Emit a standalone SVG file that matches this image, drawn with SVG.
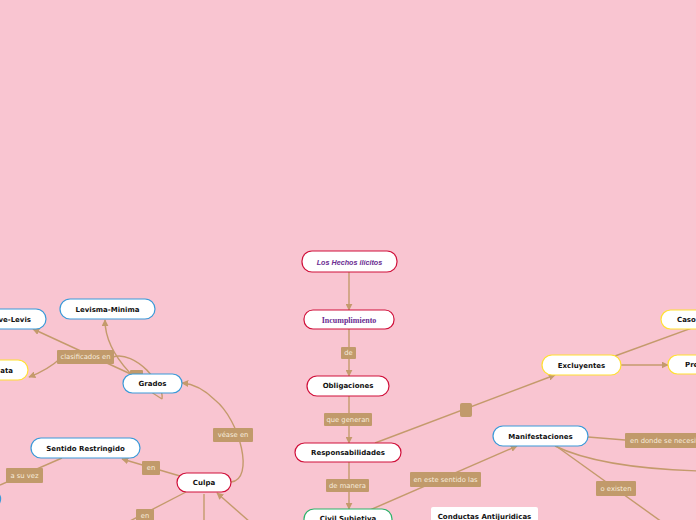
<svg xmlns="http://www.w3.org/2000/svg" width="696" height="520" viewBox="0 0 696 520">
<defs>
<marker id="ar" viewBox="0 0 10 10" refX="9" refY="5" markerWidth="7" markerHeight="7" markerUnits="userSpaceOnUse" orient="auto">
<path d="M0,0 L10,5 L0,10 z" fill="#C49A6C"/>
</marker>
<style>
.c{fill:none;stroke:#C49A6C;stroke-width:1.4}
.n{fill:#fff;stroke-width:1.2}
.red{stroke:#D0103A}
.blue{stroke:#3A9AD9}
.yel{stroke:#FFE033}
.grn{stroke:#2DB36B}
.t{font-family:"DejaVu Sans",sans-serif;font-weight:bold;font-size:7px;fill:#111;text-anchor:middle;dominant-baseline:central}
.lb{fill:#C19A6B}
.lt{font-family:"DejaVu Sans",sans-serif;font-size:6.8px;fill:#F7ECDD;text-anchor:middle;dominant-baseline:central}
</style>
</defs>
<rect width="696" height="520" fill="#F9C5D1"/>
<g id="connectors">
<line class="c" x1="349" y1="272" x2="349" y2="310" marker-end="url(#ar)"/>
<line class="c" x1="349" y1="329" x2="349" y2="376" marker-end="url(#ar)"/>
<line class="c" x1="349" y1="396" x2="349" y2="443" marker-end="url(#ar)"/>
<line class="c" x1="349" y1="462" x2="349" y2="509" marker-end="url(#ar)"/>
<line class="c" x1="375" y1="443" x2="555" y2="375" marker-end="url(#ar)"/>
<line class="c" x1="615" y1="356" x2="700" y2="325"/>
<line class="c" x1="621" y1="365" x2="668" y2="365" marker-end="url(#ar)"/>
<line class="c" x1="370" y1="510" x2="517" y2="446" marker-end="url(#ar)"/>
<line class="c" x1="588" y1="437" x2="625" y2="440"/>
<path class="c" d="M555,446 Q600,468 700,471"/>
<line class="c" x1="556" y1="446" x2="662" y2="522"/>
<path class="c" d="M231,482 C255,480 240,420 215,400 C205,390 195,384 182,383" marker-end="url(#ar)"/>
<line class="c" x1="180" y1="476" x2="122" y2="459" marker-end="url(#ar)"/>
<line class="c" x1="62" y1="458" x2="0" y2="485"/>
<line class="c" x1="186" y1="492" x2="128" y2="522"/>
<line class="c" x1="204" y1="494" x2="204" y2="522"/>
<line class="c" x1="250" y1="522" x2="217" y2="493" marker-end="url(#ar)"/>
<line class="c" x1="135" y1="376" x2="33" y2="329" marker-end="url(#ar)"/>
<path class="c" d="M62,357 Q48,370 29,377" marker-end="url(#ar)"/>
<path class="c" d="M162,399 C150,392 105,360 105,320" marker-end="url(#ar)"/>
<path class="c" d="M113,357 C135,350 165,385 162,399"/>
</g>
<g id="n-hechos"><rect class="n red" x="302" y="251" width="95" height="21" rx="10" stroke-width="2"/><text x="349.5" y="262" class="t" style="font-family:'Liberation Sans',sans-serif;font-style:italic;fill:#6B2C91;font-size:7.2px">Los Hechos ilícitos</text></g>
<g id="n-incumplimiento"><rect class="n red" x="304" y="310" width="90" height="19" rx="9"/><text x="349" y="320" class="t" style="font-family:'Liberation Serif',serif;fill:#6B2C91;font-size:8px">Incumplimiento</text></g>
<g id="l-de"><rect class="lb" x="341" y="347" width="15" height="12" rx="1"/><text class="lt" x="348.5" y="353">de</text></g>
<g id="n-obligaciones"><rect class="n red" x="307" y="376" width="82" height="20" rx="10"/><text x="348" y="386" class="t">Obligaciones</text></g>
<g id="l-quegeneran"><rect class="lb" x="324" y="413" width="48" height="13" rx="1"/><text class="lt" x="348" y="419.5">que generan</text></g>
<g id="n-responsabilidades"><rect class="n red" x="295" y="443" width="106" height="19" rx="9.5"/><text x="348" y="453" class="t">Responsabilidades</text></g>
<g id="l-demanera"><rect class="lb" x="326" y="479" width="43" height="13" rx="1"/><text class="lt" x="347.5" y="485.5">de manera</text></g>
<g id="n-civil"><rect class="n grn" x="304" y="509" width="88" height="20" rx="10"/><text x="348" y="519" class="t">Civil Subjetiva</text></g>
<g id="n-conductas"><rect fill="#fff" x="431" y="507" width="107" height="20" rx="2"/><text x="484.5" y="517" class="t">Conductas Antijuridicas</text></g>
<g id="l-square"><rect class="lb" x="460" y="403" width="12" height="14" rx="2"/></g>
<g id="n-excluyentes"><rect class="n yel" x="542" y="355" width="79" height="20" rx="10"/><text x="581.5" y="365.5" class="t">Excluyentes</text></g>
<g id="n-caso"><rect class="n yel" x="661" y="310" width="60" height="19" rx="9.5"/><text x="677" y="320" class="t" style="text-anchor:start">Caso</text></g>
<g id="n-pre"><rect class="n yel" x="668" y="355" width="50" height="19" rx="9.5"/><text x="685" y="365" class="t" style="text-anchor:start">Pre</text></g>
<g id="n-manifestaciones"><rect class="n blue" x="493" y="426" width="95" height="20" rx="10"/><text x="540.5" y="436.5" class="t">Manifestaciones</text></g>
<g id="l-endonde"><rect class="lb" x="625" y="433" width="80" height="15" rx="1"/><text class="lt" x="630" y="440.5" style="text-anchor:start">en donde se necesita</text></g>
<g id="l-enestesentido"><rect class="lb" x="410" y="472" width="71" height="15" rx="1"/><text class="lt" x="445.5" y="479.5">en este sentido las</text></g>
<g id="l-oexisten"><rect class="lb" x="596" y="481" width="40" height="15" rx="1"/><text class="lt" x="616" y="488.5">o existen</text></g>
<g id="n-levisma"><rect class="n blue" x="60" y="299" width="95" height="20" rx="10"/><text x="107.5" y="309.5" class="t">Levisma-Minima</text></g>
<g id="n-levis"><rect class="n blue" x="-20" y="309" width="66" height="20" rx="10"/><text x="31" y="319.5" class="t" style="text-anchor:end">ve-Levis</text></g>
<g id="n-ata"><rect class="n yel" x="-20" y="360" width="48" height="20" rx="10"/><text x="13" y="370.5" class="t" style="text-anchor:end">ata</text></g>
<g id="l-clasificados"><rect class="lb" x="57" y="350" width="57" height="14" rx="1"/><text class="lt" x="85.5" y="357">clasificados en</text></g>
<g id="l-small"><rect class="lb" x="130" y="370" width="13" height="7" rx="1"/></g>
<g id="n-grados"><rect class="n blue" x="123" y="374" width="59" height="19" rx="9.5"/><text x="152.5" y="384" class="t">Grados</text></g>
<g id="l-vease"><rect class="lb" x="213" y="428" width="40" height="14" rx="1"/><text class="lt" x="233" y="435">véase en</text></g>
<g id="n-sentido"><rect class="n blue" x="31" y="438" width="109" height="20" rx="10"/><text x="85.5" y="448.5" class="t">Sentido Restringido</text></g>
<g id="l-asuvez"><rect class="lb" x="6" y="468" width="37" height="15" rx="1"/><text class="lt" x="24.5" y="475.5">a su vez</text></g>
<g id="l-en1"><rect class="lb" x="142" y="461" width="18" height="14" rx="1"/><text class="lt" x="151" y="468">en</text></g>
<g id="n-culpa"><rect class="n red" x="177" y="473" width="54" height="19" rx="9.5"/><text x="204" y="483" class="t">Culpa</text></g>
<g id="l-en2"><rect class="lb" x="136" y="509" width="18" height="13" rx="1"/><text class="lt" x="145" y="516">en</text></g>
<g id="n-leftedge"><rect class="n blue" x="-30" y="491" width="30.6" height="16" rx="8"/></g>
</svg>
